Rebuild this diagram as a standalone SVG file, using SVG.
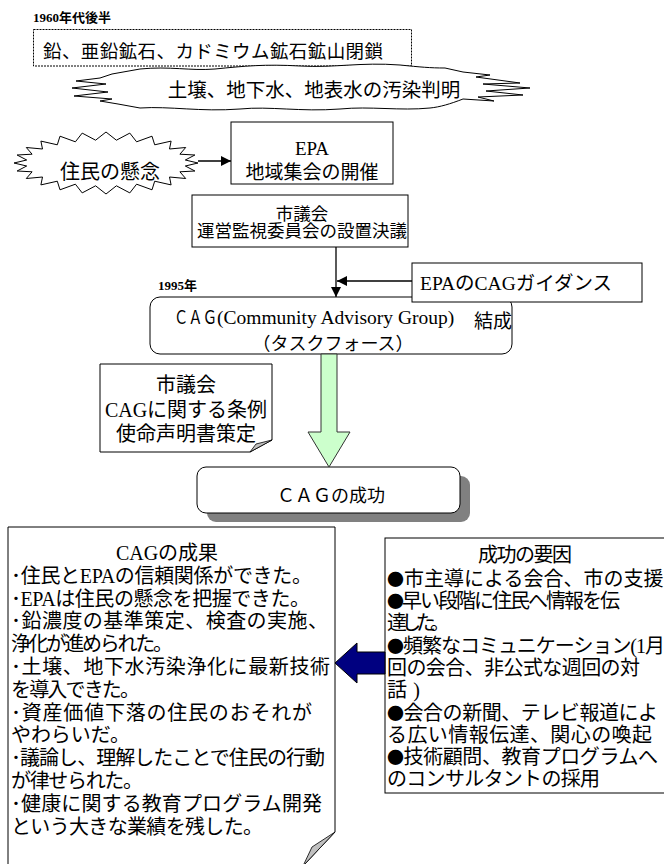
<svg xmlns="http://www.w3.org/2000/svg" width="664" height="864" viewBox="0 0 664 864">
<style>
.t{font-family:"Liberation Serif","Noto Sans CJK JP",serif;fill:#000}
.j{font-family:"Noto Sans CJK JP","Liberation Sans",sans-serif;fill:#000}
.b{font-family:"Noto Sans CJK JP","Liberation Sans",sans-serif;font-size:17px}
.box{fill:#fff;stroke:#000;stroke-width:1}
.ln{stroke:#000;stroke-width:1.3;fill:none}
.fold{fill:#c0c0c0;stroke:#000;stroke-width:0.8}
</style>
<defs>
<marker id="ah" viewBox="0 0 10 10" refX="10" refY="5" markerWidth="11" markerHeight="10" markerUnits="userSpaceOnUse" orient="auto"><path d="M0,0 L10,5 L0,10 z" fill="#000"/></marker>
</defs>
<rect width="664" height="864" fill="#fff"/>

<g id="label1960"><text class="t" x="33" y="22" font-size="13" font-weight="bold">1960年代後半</text></g>

<g id="mine-closure">
<rect x="33.5" y="29.5" width="378" height="36.5" fill="#fff" stroke="#000" stroke-width="1" stroke-dasharray="2 1"/>
<text class="j" x="43" y="58" font-size="18.5" textLength="340" lengthAdjust="spacing">鉛、亜鉛鉱石、カドミウム鉱石鉱山閉鎖</text>
</g>

<g id="pollution">
<path class="box" d="M100,78 L112,74 L140,69 C170,66 190,71 215,69 C245,66 265,64 300,66 C335,68 360,62 400,65 C420,67 430,68 445,68 L463,72 L490,75 L476,77 L520,83 L483,84 L530,88 L486,91 L523,95 L478,97 L494,101 L463,99 C450,104 440,107 430,108 C400,111 370,106 340,109 C300,112 270,106 240,109 C200,112 170,106 140,108 L118,104 L100,101 L112,99 L74,96 L108,92 L72,88 L106,84 L76,81 Z"/>
<text class="j" x="314" y="97" font-size="19.5" text-anchor="middle">土壌、地下水、地表水の汚染判明</text>
</g>

<g id="concern">
<polygon class="box" points="198,163 185.3,166 194.9,171 179.9,171.8 185.7,178.5 169.5,177 171.1,184.9 154.7,181.2 152,189.8 136.6,184.2 129.8,192.9 116.4,185.8 106,194 95.6,185.8 82.2,192.9 75.4,184.2 60,189.8 57.3,181.2 40.9,184.9 42.5,177 26.3,178.5 32.1,171.8 17.1,171 26.7,166 14,163 26.7,160 17.1,155 32.1,154.2 26.3,147.5 42.5,149 40.9,141.1 57.3,144.8 60,136.2 75.4,141.8 82.2,133.1 95.6,140.2 106,132 116.4,140.2 129.8,133.1 136.6,141.8 152,136.2 154.7,144.8 171.1,141.1 169.5,149 185.7,147.5 179.9,154.2 194.9,155 185.3,160"/>
<text class="j" x="110" y="179" font-size="20" text-anchor="middle">住民の懸念</text>
</g>

<g id="epa-meeting">
<rect class="box" x="231" y="122" width="162" height="62"/>
<text class="t" x="312" y="155" font-size="19" text-anchor="middle">EPA</text>
<text class="j" x="312" y="179" font-size="19" text-anchor="middle">地域集会の開催</text>
</g>

<g id="council-resolution">
<rect class="box" x="192" y="195" width="216" height="52"/>
<text class="j" x="302" y="220" font-size="17.5" text-anchor="middle">市議会</text>
<text class="j" x="302" y="237" font-size="17.5" text-anchor="middle">運営監視委員会の設置決議</text>
</g>

<g id="label1995"><text class="t" x="158" y="290" font-size="13" font-weight="bold">1995年</text></g>

<g id="cag-formation">
<rect class="box" x="150" y="297" width="362" height="57" rx="10"/>
<text x="174" y="324"><tspan class="j" font-size="18" textLength="43" lengthAdjust="spacingAndGlyphs">ＣＡＧ</tspan><tspan class="t" font-size="19.5">(Community Advisory Group)</tspan></text>
<text class="j" x="474" y="328" font-size="19">結成</text>
<text class="j" x="333" y="350" font-size="18" text-anchor="middle">（タスクフォース）</text>
</g>

<g id="epa-guidance">
<rect class="box" x="412" y="263" width="230" height="39"/>
<text class="t" x="420" y="290" font-size="19.5">EPAのCAGガイダンス</text>
</g>

<g id="council-ordinance">
<polygon class="box" points="100,364 272,364 272,440 250,452 100,452"/>
<polygon class="fold" points="272,440 250,452 256,444"/>
<text class="t" x="186" y="392" font-size="20" text-anchor="middle">市議会</text>
<text class="t" x="186" y="417" font-size="20" text-anchor="middle">CAGに関する条例</text>
<text class="t" x="186" y="441" font-size="20" text-anchor="middle">使命声明書策定</text>
</g>

<g id="cag-success">
<rect x="207" y="476" width="263" height="46" rx="9" fill="#808080"/>
<rect class="box" x="197" y="467" width="263" height="46" rx="9"/>
<text class="j" x="331" y="502" font-size="18" text-anchor="middle">ＣＡＧの成功</text>
</g>

<g id="cag-results">
<polygon class="box" points="8,527 335,527 335,832 303,866 8,866"/>
<polygon class="fold" points="335,832 312,847 303,866"/>
<g class="t" font-size="20">
<text x="167" y="560" text-anchor="middle">CAGの成果</text>
<text x="11" y="583" textLength="301" lengthAdjust="spacing">･住民とEPAの信頼関係ができた。</text>
<text x="11" y="606" textLength="299" lengthAdjust="spacing">･EPAは住民の懸念を把握できた。</text>
<text x="11" y="628" textLength="317" lengthAdjust="spacing">･鉛濃度の基準策定、検査の実施、</text>
<text x="11" y="651" textLength="162" lengthAdjust="spacing">浄化が進められた。</text>
<text x="11" y="674" textLength="319" lengthAdjust="spacing">･土壌、地下水汚染浄化に最新技術</text>
<text x="11" y="697" textLength="129" lengthAdjust="spacing">を導入できた。</text>
<text x="11" y="720" textLength="301" lengthAdjust="spacing">･資産価値下落の住民のおそれが</text>
<text x="11" y="742" textLength="119" lengthAdjust="spacing">やわらいだ。</text>
<text x="11" y="765" textLength="314" lengthAdjust="spacing">･議論し、理解したことで住民の行動</text>
<text x="11" y="788" textLength="132" lengthAdjust="spacing">が律せられた。</text>
<text x="11" y="811" textLength="311" lengthAdjust="spacing">･健康に関する教育プログラム開発</text>
<text x="11" y="834" textLength="252" lengthAdjust="spacing">という大きな業績を残した。</text>
</g>
</g>

<g id="success-factors">
<rect class="box" x="385" y="538" width="300" height="255"/>
<g class="t" font-size="20">
<text x="525" y="562" text-anchor="middle" textLength="94" lengthAdjust="spacing">成功の要因</text>
<text x="387" y="586"><tspan class="b">●</tspan>市主導による会合、市の支援</text>
<text x="387" y="608" textLength="233" lengthAdjust="spacing"><tspan class="b">●</tspan>早い段階に住民へ情報を伝</text>
<text x="387" y="630" textLength="63" lengthAdjust="spacing">達した。</text>
<text x="387" y="653" textLength="278" lengthAdjust="spacing"><tspan class="b">●</tspan>頻繁なコミュニケーション(1月</text>
<text x="387" y="675" textLength="253" lengthAdjust="spacing">回の会合、非公式な週回の対</text>
<text x="387" y="697" textLength="33" lengthAdjust="spacing">話)</text>
<text x="387" y="720" textLength="271" lengthAdjust="spacing"><tspan class="b">●</tspan>会合の新聞、テレビ報道によ</text>
<text x="387" y="742" textLength="265" lengthAdjust="spacing">る広い情報伝達、関心の喚起</text>
<text x="387" y="764" textLength="271" lengthAdjust="spacing"><tspan class="b">●</tspan>技術顧問、教育プログラムへ</text>
<text x="387" y="786" textLength="213" lengthAdjust="spacing">のコンサルタントの採用</text>
</g>
</g>

<g id="connectors">
<line class="ln" x1="198" y1="161" x2="231" y2="161" marker-end="url(#ah)"/>
<line class="ln" x1="336" y1="247" x2="336" y2="297" marker-end="url(#ah)"/>
<line class="ln" x1="412" y1="281" x2="337" y2="281" marker-end="url(#ah)"/>
<path d="M321,354 L337,354 L337,432 L350,432 L329,467 L308,432 L321,432 Z" fill="#ccffcc" stroke="#333" stroke-width="1"/>
<path d="M385,652 L357,652 L357,643 L335,663 L357,683 L357,674 L385,674 Z" fill="#000080" stroke="#000" stroke-width="1"/>
</g>
</svg>
